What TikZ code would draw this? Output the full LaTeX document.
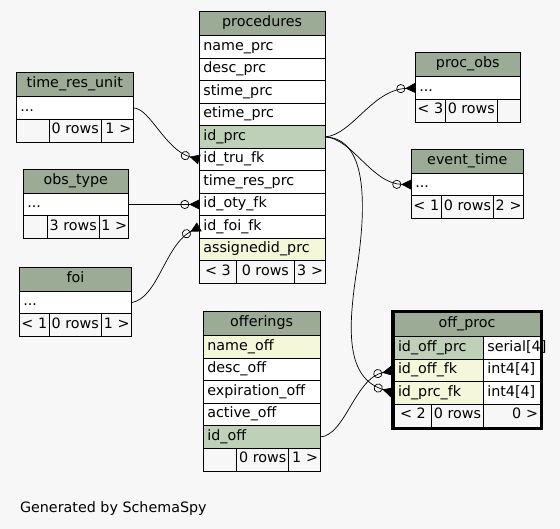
\documentclass[tikz,border=0pt]{standalone}
\usepackage{fontspec}
\setmainfont{DejaVu Sans}
\usetikzlibrary{positioning, arrows.meta, fit}
\definecolor{bggray}{HTML}{F7F7F7}
\definecolor{hdrgreen}{HTML}{9BAB96}
\definecolor{pkgreen}{HTML}{BED1B8}
\definecolor{idxyellow}{HTML}{F4F7DA}
\tikzset{
  headbox/.style={rectangle, draw=black, line width=0.8pt, fill=hdrgreen, minimum width=#1, minimum height=24pt, text height=10pt, text depth=3.5pt, inner xsep=4pt, inner ysep=0pt, outer sep=0pt, anchor=north west},
  rowbox/.style={rectangle, draw=black, line width=0.8pt, fill=white, text width=#1, align=left, minimum height=22.5pt, text height=10pt, text depth=3.5pt, inner xsep=4pt, inner ysep=0pt, outer sep=0pt},
  pkbox/.style={rowbox=#1, fill=pkgreen},
  idxbox/.style={rowbox=#1, fill=idxyellow},
  footbox/.style={rectangle, draw=black, line width=0.8pt, fill=bggray, minimum width=#1, minimum height=23pt, text height=10pt, text depth=3.5pt, inner xsep=2pt, inner ysep=0pt, outer sep=0pt},
  footboxr/.style={footbox=0pt, text width=#1, align=right},
  fkline/.style={draw=black, line width=0.7pt, -{Circle[open,length=9pt,width=9pt] Triangle[reversed,length=10pt,width=10pt]}}
}

\begin{document}
\begin{tikzpicture}[x=1pt, y=-1pt, font=\fontsize{14.3pt}{16pt}\selectfont]
  \fill [bggray] (0,0) rectangle (560,529);
  \useasboundingbox (0,0) rectangle (560,529);

  % procedures
  \node (prchead) [headbox=125.7pt] at (199.3,11.7) {procedures};
  \node (prcname) [rowbox=117.7pt, below=0pt of prchead] {name\_prc};
  \node (prcdesc) [rowbox=117.7pt, below=0pt of prcname] {desc\_prc};
  \node (prcstime) [rowbox=117.7pt, below=0pt of prcdesc] {stime\_prc};
  \node (prcetime) [rowbox=117.7pt, below=0pt of prcstime] {etime\_prc};
  \node (prcid) [pkbox=117.7pt, below=0pt of prcetime] {id\_prc};
  \node (prctru) [rowbox=117.7pt, below=0pt of prcid] {id\_tru\_fk};
  \node (prctres) [rowbox=117.7pt, below=0pt of prctru] {time\_res\_prc};
  \node (prcoty) [rowbox=117.7pt, below=0pt of prctres] {id\_oty\_fk};
  \node (prcfoi) [rowbox=117.7pt, below=0pt of prcoty] {id\_foi\_fk};
  \node (prcassid) [idxbox=117.7pt, below=0pt of prcfoi] {assignedid\_prc};
  \node (prcf1) [footbox=37.4pt, below right=0pt of prcassid.south west] {<~3};
  \node (prcf2) [footbox=57.3pt, right=0pt of prcf1] {0~rows};
  \node (prcf3) [footboxr=27pt, right=0pt of prcf2] {3~>};

  % time_res_unit
  \node (truhead) [headbox=117pt] at (16.3,72.7) {time\_res\_unit};
  \node (trudots) [rowbox=109pt, below=0pt of truhead] {...};
  \node (truf1) [footbox=33pt, below right=0pt of trudots.south west] {};
  \node (truf2) [footbox=52pt, right=0pt of truf1] {0~rows};
  \node (truf3) [footboxr=28pt, right=0pt of truf2] {1~>};

  % obs_type
  \node (otyhead) [headbox=105pt] at (23.3,169.3) {obs\_type};
  \node (otydots) [rowbox=97pt, below=0pt of otyhead] {...};
  \node (otyf1) [footbox=24pt, below right=0pt of otydots.south west] {};
  \node (otyf2) [footbox=52pt, right=0pt of otyf1] {3~rows};
  \node (otyf3) [footboxr=25pt, right=0pt of otyf2] {1~>};

  % foi
  \node (foihead) [headbox=112.4pt] at (19.3,267.3) {foi};
  \node (foidots) [rowbox=104.4pt, below=0pt of foihead] {...};
  \node (foif1) [footbox=30pt, below right=0pt of foidots.south west] {<~1};
  \node (foif2) [footbox=52pt, right=0pt of foif1] {0~rows};
  \node (foif3) [footboxr=26.4pt, right=0pt of foif2] {1~>};

  % proc_obs
  \node (pobshead) [headbox=105pt] at (415.3,52.7) {proc\_obs};
  \node (pobsdots) [rowbox=97pt, below=0pt of pobshead] {...};
  \node (pobsf1) [footbox=30pt, below right=0pt of pobsdots.south west] {<~3};
  \node (pobsf2) [footbox=52pt, right=0pt of pobsf1] {0~rows};
  \node (pobsf3) [footbox=23pt, right=0pt of pobsf2] {};

  % event_time
  \node (evthead) [headbox=112pt] at (411.3,149.3) {event\_time};
  \node (evtdots) [rowbox=104pt, below=0pt of evthead] {...};
  \node (evtf1) [footbox=30pt, below right=0pt of evtdots.south west] {<~1};
  \node (evtf2) [footbox=52.4pt, right=0pt of evtf1] {0~rows};
  \node (evtf3) [footboxr=25.6pt, right=0pt of evtf2] {2~>};

  % offerings
  \node (offhead) [headbox=116.7pt] at (203.3,311.7) {offerings};
  \node (offname) [idxbox=108.7pt, below=0pt of offhead] {name\_off};
  \node (offdesc) [rowbox=108.7pt, below=0pt of offname] {desc\_off};
  \node (offexp) [rowbox=108.7pt, below=0pt of offdesc] {expiration\_off};
  \node (offact) [rowbox=108.7pt, below=0pt of offexp] {active\_off};
  \node (offid) [pkbox=108.7pt, below=0pt of offact] {id\_off};
  \node (offf1) [footbox=33.4pt, below right=0pt of offid.south west] {};
  \node (offf2) [footbox=52pt, right=0pt of offf1] {0~rows};
  \node (offf3) [footboxr=27.3pt, right=0pt of offf2] {1~>};

  % off_proc
  \node (ophead) [headbox=146pt] at (394,312.7) {off\_proc};
  \node (opid) [pkbox=81.3pt, below right=0pt of ophead.south west] {id\_off\_prc};
  \node (opidtype) [rowbox=48.7pt, right=0pt of opid] {serial[4]};
  \node (opfkoff) [idxbox=81.3pt, below right=0pt of opid.south west] {id\_off\_fk};
  \node (opfkofftype) [rowbox=48.7pt, right=0pt of opfkoff] {int4[4]};
  \node (opfkprc) [idxbox=81.3pt, below right=0pt of opfkoff.south west] {id\_prc\_fk};
  \node (opfkprctype) [rowbox=48.7pt, right=0pt of opfkprc] {int4[4]};
  \node (opf1) [footbox=37.7pt, below right=0pt of opfkprc.south west] {<~2};
  \node (opf2) [footbox=51.6pt, right=0pt of opf1] {0~rows};
  \node (opf3) [footboxr=52.7pt, right=0pt of opf2] {0~>};
  \node (opframe) [fit=(ophead)(opf3), draw=black, line width=3pt, inner sep=1.5pt] {};

  % foreign keys
  \draw [fkline] (trudots.east) .. controls (150,108) and (165,150) .. (prctru.west);
  \draw [fkline] (otydots.east) -- (prcoty.west);
  \draw [fkline] (foidots.east) .. controls (158,298) and (165,245) .. (prcfoi.west);
  \draw [fkline] (prcid.east) .. controls (352,135) and (372,90) .. (pobsdots.west);
  \draw [fkline] (prcid.east) .. controls (352,138) and (372,184) .. (evtdots.west);
  \draw [fkline, shorten >=2pt] (prcid.east) .. controls (366,138) and (368,200) .. (356,275) .. controls (348,330) and (346,378) .. (opfkprc.west);
  \draw [fkline, shorten >=2pt] (offid.east) .. controls (345,436) and (355,378) .. (opfkoff.west);

  \node (gen) [anchor=base west] at (16.5,512) {Generated by SchemaSpy};
\end{tikzpicture}
\end{document}
